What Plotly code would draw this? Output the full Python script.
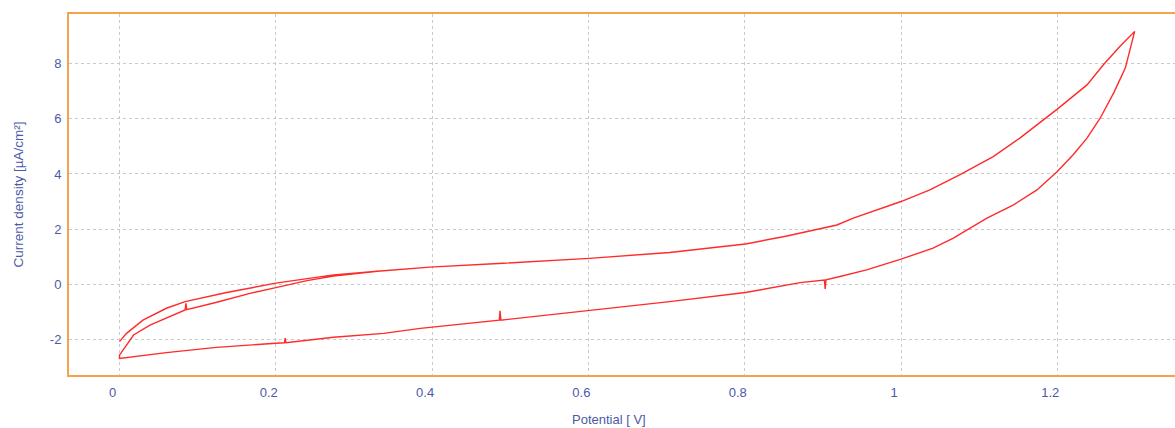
import plotly.graph_objects as go

# Forward scan 1 (0 V -> 1.3 V)
potential_fwd1 = [0.000, 0.009, 0.030, 0.060, 0.084, 0.137, 0.200, 0.274, 0.330, 0.397,
                  0.491, 0.601, 0.704, 0.801, 0.854, 0.896, 0.918, 0.939, 1.000, 1.037,
                  1.075, 1.118, 1.152, 1.200, 1.238, 1.259, 1.280, 1.299]
current_fwd1 = [-2.08, -1.78, -1.30, -0.87, -0.63, -0.30, 0.04, 0.34, 0.47, 0.62,
                0.76, 0.94, 1.15, 1.46, 1.75, 2.03, 2.15, 2.40, 3.00, 3.42,
                3.97, 4.63, 5.30, 6.35, 7.23, 7.96, 8.62, 9.17]

# Reverse scan (1.3 V -> 0 V)
potential_rev = [1.293, 1.287, 1.272, 1.255, 1.238, 1.220, 1.200, 1.174, 1.144, 1.110,
                 1.067, 1.041, 1.000, 0.956, 0.922, 0.904, 0.903, 0.902, 0.871, 0.801,
                 0.704, 0.601, 0.488, 0.487, 0.486, 0.385, 0.338, 0.274, 0.213, 0.212,
                 0.211, 0.200, 0.124, 0.060, 0.018, 0.000]
current_rev = [8.50, 7.84, 6.93, 6.03, 5.30, 4.69, 4.09, 3.42, 2.88, 2.40,
               1.67, 1.31, 0.91, 0.52, 0.28, 0.16, -0.17, 0.15, 0.06, -0.30,
               -0.63, -0.96, -1.30, -0.96, -1.30, -1.60, -1.78, -1.92, -2.12, -1.95,
               -2.12, -2.14, -2.29, -2.48, -2.63, -2.69]

# Forward scan 2 (0 V -> ~0.3 V, merging with scan 1)
potential_fwd2 = [0.000, 0.000, 0.018, 0.039, 0.065, 0.084, 0.085, 0.086, 0.122, 0.167,
                  0.200, 0.240, 0.274, 0.330]
current_fwd2 = [-2.69, -2.57, -1.84, -1.48, -1.17, -0.93, -0.69, -0.92, -0.67, -0.33,
                -0.12, 0.13, 0.30, 0.47]

potential = potential_fwd1 + potential_rev + potential_fwd2
current = current_fwd1 + current_rev + current_fwd2

x_ticks = [0, 0.2, 0.4, 0.6, 0.8, 1.0, 1.2]
x_tick_labels = ["0", "0.2", "0.4", "0.6", "0.8", "1", "1.2"]
y_ticks = [-2, 0, 2, 4, 6, 8]
y_tick_labels = ["-2", "0", "2", "4", "6", "8"]

text_color = "#4c5aa6"
border_color = "#f5a24a"
grid_color = "#c9c9c9"
narrow = "Liberation Sans Narrow, Liberation Sans, Arial, sans-serif"

fig = go.Figure()
fig.add_trace(go.Scatter(
    x=potential, y=current, mode="lines",
    line=dict(color="#ff2a2a", width=1.4),
    showlegend=False, hoverinfo="x+y",
))

fig.update_layout(
    width=1175, height=428,
    margin=dict(l=69, r=0, t=14, b=53),
    paper_bgcolor="white", plot_bgcolor="white",
    showlegend=False,
    annotations=[dict(
        text="Potential [ V]", xref="paper", yref="paper",
        x=(609 - 69) / 1106, y=-44 / 361, xanchor="center", yanchor="middle",
        showarrow=False, font=dict(family=narrow, size=13, color=text_color),
    )],
)

fig.update_xaxes(
    range=[-0.0646, 1.3506], autorange=False,
    tickvals=x_ticks, ticktext=x_tick_labels,
    tickfont=dict(family=narrow, size=13, color=text_color),
    ticks="outside", ticklen=4, tickcolor="rgba(0,0,0,0)",
    ticklabelshift=-7,
    showgrid=True, gridcolor=grid_color, griddash="3px,3px", gridwidth=1,
    zeroline=False,
    showline=True, linecolor=border_color, linewidth=2, mirror=True,
    automargin=False,
)
fig.update_yaxes(
    range=[-3.29, 9.80], autorange=False,
    tickvals=y_ticks, ticktext=y_tick_labels,
    tickfont=dict(family=narrow, size=13, color=text_color),
    ticks="outside", ticklen=3, tickcolor="rgba(0,0,0,0)",
    showgrid=True, gridcolor=grid_color, griddash="3px,3px", gridwidth=1,
    zeroline=False,
    showline=True, linecolor=border_color, linewidth=2, mirror=False,
    title=dict(text="Current density [µA/cm²]", font=dict(family="Liberation Sans, Arial, sans-serif", size=13.5, color=text_color), standoff=23),
    automargin=False,
)

fig.write_html(
    "out.html",
    config={"displayModeBar": False},
    post_script="document.body.style.margin='0';document.body.style.overflow='hidden';",
)
